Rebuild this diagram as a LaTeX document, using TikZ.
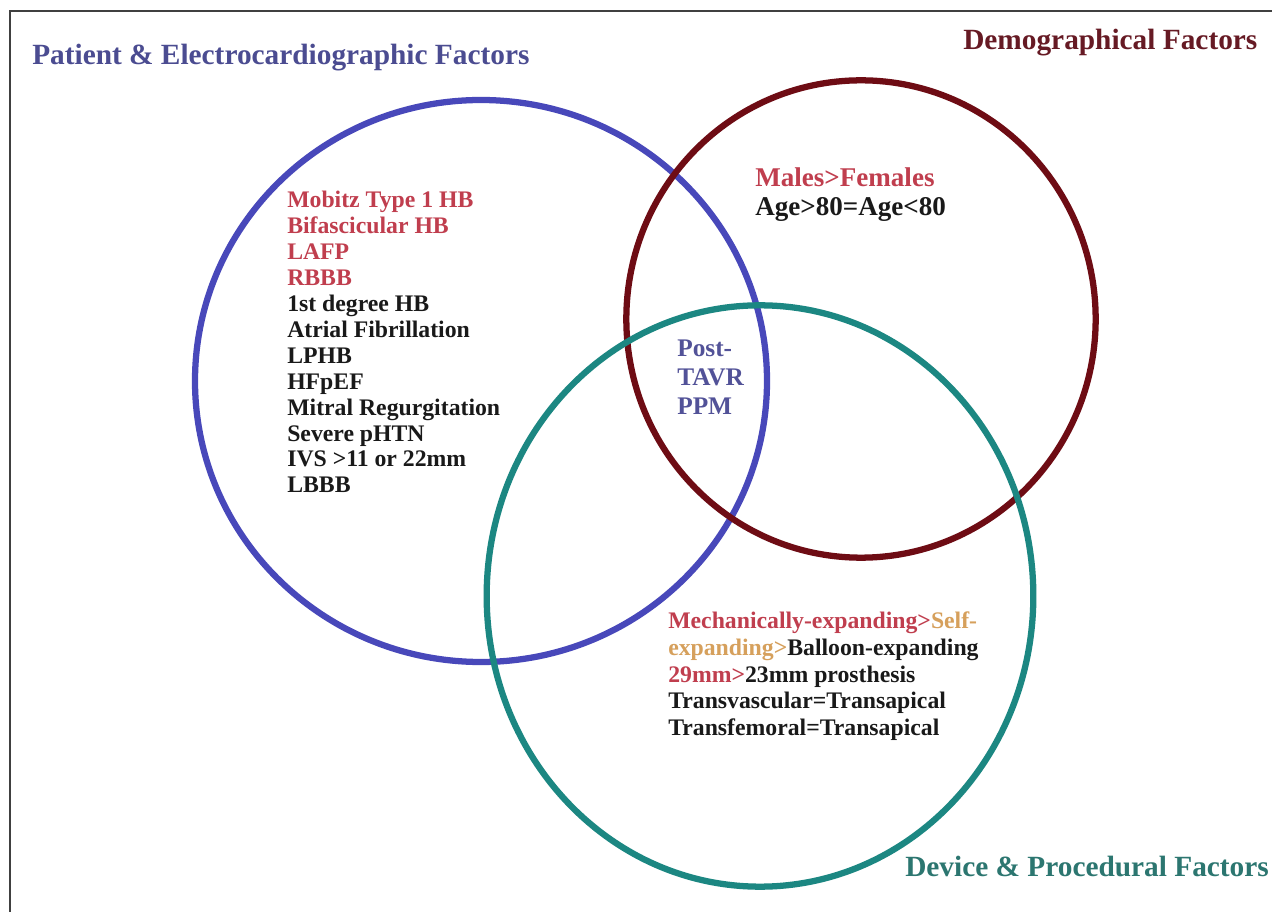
\documentclass[tikz,border=0pt]{standalone}
\usepackage{fontspec}
\setmainfont{Liberation Serif}
\begin{document}
\begin{tikzpicture}[x=0.75pt,y=-0.75pt,
  ring/.style={line width=4.7pt},
  title/.style={anchor=base west,inner sep=0pt,font=\fontsize{22}{24}\selectfont\bfseries},
  item/.style={anchor=base west,inner sep=0pt,font=\fontsize{17.8}{20}\selectfont\bfseries},
  big/.style={anchor=base west,inner sep=0pt,font=\fontsize{20.3}{23}\selectfont\bfseries},
  mid/.style={anchor=base west,inner sep=0pt,font=\fontsize{19}{22}\selectfont\bfseries}]
\definecolor{ringblue}{RGB}{72,72,186}
\definecolor{ringred}{RGB}{110,12,20}
\definecolor{ringteal}{RGB}{28,135,130}
\definecolor{tblue}{RGB}{75,76,145}
\definecolor{tred}{RGB}{102,26,36}
\definecolor{tteal}{RGB}{44,118,112}
\definecolor{rose}{RGB}{192,62,78}
\definecolor{amber}{RGB}{214,160,92}
\definecolor{ppm}{RGB}{82,82,152}
\definecolor{ink}{RGB}{25,25,25}
\useasboundingbox (0,0) rectangle (1272,912);
\fill[white] (0,0) rectangle (1272,912);
\coordinate (fr) at (1272,11);
\coordinate (fc) at (10,11);
\coordinate (fb) at (10,912);
\draw[line width=1.6pt,black!75] (fr) -- (fc) -- (fb);
% circles
\draw[ring,ringblue] (481,381) ellipse [x radius=214.5pt, y radius=210.75pt];
\draw[ring,ringred] (861,319) ellipse [x radius=176pt, y radius=179pt];
\draw[ring,ringteal] (760,596) ellipse [x radius=205pt, y radius=218pt];
% titles
\node[title,tblue] (tp) at (32,65) {Patient \& Electrocardiographic Factors};
\node[title,tred] (td) at (963,50) {Demographical Factors};
\node[title,tteal] (tv) at (905,876) {Device \& Procedural Factors};
% left list
\node[item,rose] (p1) at (287,208) {Mobitz Type 1 HB};
\node[item,rose] (p2) at (287,233.9) {Bifascicular HB};
\node[item,rose] (p3) at (287,259.8) {LAFP};
\node[item,rose] (p4) at (287,285.7) {RBBB};
\node[item,ink] (p5) at (287,311.6) {1st degree HB};
\node[item,ink] (p6) at (287,337.5) {Atrial Fibrillation};
\node[item,ink] (p7) at (287,363.4) {LPHB};
\node[item,ink] (p8) at (287,389.3) {HFpEF};
\node[item,ink] (p9) at (287,415.2) {Mitral Regurgitation};
\node[item,ink] (p10) at (287,441.1) {Severe pHTN};
\node[item,ink] (p11) at (287,467) {IVS >11 or 22mm};
\node[item,ink] (p12) at (287,492.9) {LBBB};
% demographic
\node[big,rose] (d1) at (755,187) {Males>Females};
\node[big,ink] (d2) at (755,216) {Age>80=Age<80};
% centre
\node[mid,ppm] (c1) at (677,357) {Post-};
\node[mid,ppm] (c2) at (677,386) {TAVR};
\node[mid,ppm] (c3) at (677,415) {PPM};
% device list
\node[item,rose] (v1) at (668,629) {Mechanically-expanding>\textcolor{amber}{Self-}};
\node[item,amber] (v2) at (668,655.7) {expanding>\textcolor{ink}{Balloon-expanding}};
\node[item,rose] (v3) at (668,682.4) {29mm>\textcolor{ink}{23mm prosthesis}};
\node[item,ink] (v4) at (668,709) {Transvascular=Transapical};
\node[item,ink] (v5) at (668,735.8) {Transfemoral=Transapical};
\end{tikzpicture}
\end{document}
